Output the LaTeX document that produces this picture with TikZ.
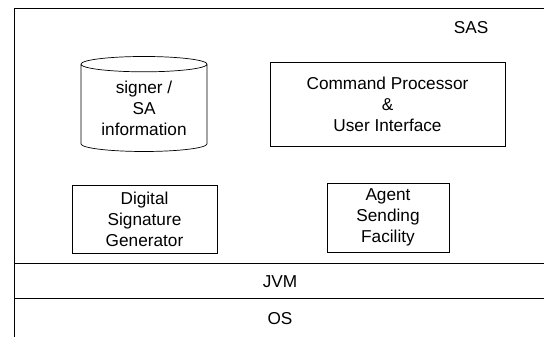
\documentclass[tikz,border=0pt]{standalone}
\usepackage{fontspec}
\setmainfont{Liberation Sans}
\usetikzlibrary{shapes.geometric}

\tikzstyle{bS}=[rectangle,draw,line width=0.6pt,inner sep = 0pt,font=\fontsize{14.7}{17.8}\selectfont,align=center]
\tikzstyle{cS}=[cylinder,shape border rotate=90,aspect=0.18,draw,line width=0.6pt,inner sep = 0pt,font=\fontsize{14.7}{17.8}\selectfont,align=center]
\tikzstyle{lS}=[inner sep = 0pt,font=\fontsize{14.7}{17.8}\selectfont]
\tikzstyle{fS}=[line width=0.6pt]

\begin{document}
\begin{tikzpicture}[scale=1]
                \useasboundingbox (0,0) rectangle (16.32,10.08);
                % layers
                \draw[fS] (0.42,-0.5) rectangle (16.7,9.825);
                \draw[fS] (0.42,2.175) -- (16.7,2.175);
                \draw[fS] (0.42,1.14) -- (16.7,1.14);
                \draw (14.13,9.24) node[lS] (sas) {SAS};
                \draw (8.4,1.62) node[lS] (jvm) {JVM};
                \draw (8.4,0.51) node[lS] (os) {OS};
                % SAS parts
                \draw (4.32,6.84) node[cS,minimum width=3.78cm,minimum height=2.85cm] (db) {signer /\\SA\\information};
                \draw (11.625,6.96) node[bS,minimum width=7.05cm,minimum height=2.52cm] (cmd) {Command Processor\\\&\\User Interface};
                \draw (4.335,3.51) node[bS,minimum width=4.35cm,minimum height=2.04cm] (dsg) {Digital\\Signature\\Generator};
                \draw (11.64,3.555) node[bS,minimum width=3.66cm,minimum height=2.07cm] (asf) {Agent\\Sending\\Facility};
        \end{tikzpicture}
\end{document}
